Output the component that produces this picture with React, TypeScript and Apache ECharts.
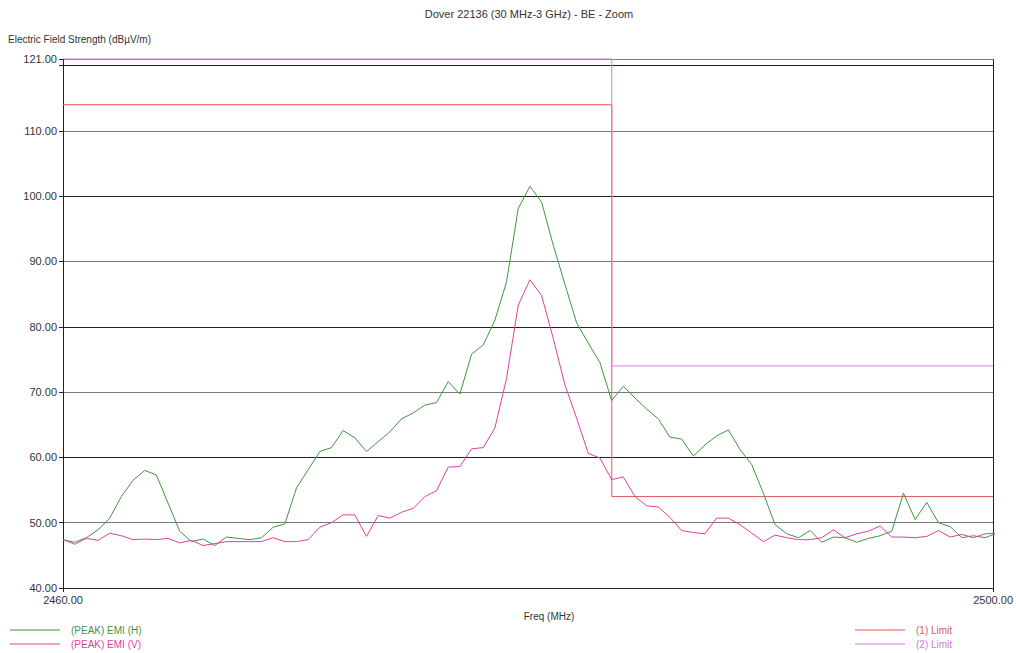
import React, { useEffect, useRef } from "react";
import * as echarts from "echarts";

const FREQ_START = 2460;
const FREQ_STEP = 0.502;

const emiH = [
  47.4, 47.0, 47.7, 48.9, 50.7, 54.0, 56.5, 58.0, 57.3, 53.0,
  48.7, 47.1, 47.5, 46.5, 47.8, 47.6, 47.4, 47.7, 49.3, 49.8,
  55.3, 58.1, 60.9, 61.5, 64.1, 63.0, 60.9, 62.4, 63.9, 65.9,
  66.8, 68.0, 68.4, 71.6, 69.7, 75.8, 77.2, 81.0, 86.9, 98.1,
  101.5, 99.1, 92.5, 86.5, 80.6, 77.5, 74.5, 68.7, 70.9, 69.1,
  67.4, 65.9, 63.1, 62.8, 60.2, 61.9, 63.3, 64.2, 61.2, 58.9,
  54.5, 49.7, 48.3, 47.7, 48.8, 47.0, 47.8, 47.7, 47.0, 47.6,
  48.0, 48.7, 54.5, 50.5, 53.1, 50.0, 49.4, 47.7, 48.0, 47.7,
  48.4,
];

const emiV = [
  47.4, 46.7, 47.6, 47.3, 48.4, 48.0, 47.4, 47.5, 47.4, 47.6,
  46.9, 47.3, 46.5, 46.8, 47.1, 47.1, 47.1, 47.1, 47.7, 47.1,
  47.1, 47.4, 49.3, 50.0, 51.2, 51.2, 47.9, 51.1, 50.7, 51.6,
  52.2, 54.0, 54.9, 58.5, 58.6, 61.3, 61.5, 64.5, 72.1, 83.3,
  87.2, 84.8, 78.2, 71.1, 66.0, 60.6, 59.9, 56.6, 57.0, 54.0,
  52.6, 52.4, 50.8, 48.8, 48.5, 48.3, 50.7, 50.7, 49.7, 48.4,
  47.1, 48.1, 47.7, 47.4, 47.4, 47.7, 48.9, 47.7, 48.3, 48.7,
  49.5, 47.8, 47.8, 47.7, 47.9, 48.8, 47.8, 48.2, 47.7, 48.3,
  48.4,
];

const limit1Freq = [2460, 2483.6, 2483.6, 2500];
const limit1Val = [114, 114, 54, 54];
const limit2Freq = [2460, 2483.6, 2483.6, 2500];
const limit2Val = [121, 121, 74, 74];

const xTicks = [2460, 2500];
const yMin = 40;
const yMax = 121;
const yStep = 10;

const TITLE = "Dover 22136 (30 MHz-3 GHz) - BE - Zoom";
const Y_NAME = "Electric Field Strength (dBµV/m)";
const X_NAME = "Freq (MHz)";
const NAMES = ["(PEAK) EMI (H)", "(PEAK) EMI (V)", "(1) Limit", "(2) Limit"];
const COLORS = ["#3f963f", "#df3f9f", "#e05a5a", "#d27ae0"];

const FONT = "Liberation Sans";

export default function App() {
  const ref = useRef<HTMLDivElement>(null);

  useEffect(() => {
    if (!ref.current) return;
    const chart = echarts.init(ref.current, undefined, { renderer: "svg" });
    const toPairs = (vals: number[]) =>
      vals.map((v, i) => [FREQ_START + i * FREQ_STEP, v]);
    const zip = (xs: number[], ys: number[]) => xs.map((x, i) => [x, ys[i]]);

    const lineSeries = (name: string, color: string, data: number[][], z: number, clip = true) => ({
      name,
      type: "line",
      data,
      symbol: "none",
      clip,
      z,
      lineStyle: { color, width: 1 },
      itemStyle: { color },
    });

    const legendCommon = {
      orient: "vertical",
      top: 624,
      height: 40,
      padding: 0,
      icon: "rect",
      itemWidth: 50,
      itemHeight: 1,
      itemGap: 2,
      itemStyle: { borderWidth: 0 },
      textStyle: { fontSize: 10, fontFamily: FONT, lineHeight: 12, padding: [0, 0, 0, 6] },
      selectedMode: false,
    };

    chart.setOption({
      animation: false,
      backgroundColor: "#ffffff",
      textStyle: { fontFamily: FONT },
      grid: { left: 63, right: 19, top: 59, bottom: 65 },
      xAxis: {
        type: "value",
        min: xTicks[0],
        max: xTicks[xTicks.length - 1],
        interval: xTicks[1] - xTicks[0],
        axisLine: { show: true, lineStyle: { color: "#222", width: 1 } },
        axisTick: { show: true, length: 4, lineStyle: { color: "#222" } },
        axisLabel: {
          formatter: (v: number) => v.toFixed(2),
          color: "#333",
          fontSize: 11,
          fontFamily: FONT,
          margin: 6,
        },
        splitLine: { show: true, lineStyle: { color: "#222", width: 1 } },
      },
      yAxis: {
        type: "value",
        min: yMin,
        max: yMax,
        interval: yStep,
        axisLine: { show: true, lineStyle: { color: "#222", width: 1 } },
        axisTick: { show: true, length: 4, lineStyle: { color: "#222" } },
        axisLabel: {
          formatter: (v: number) => (v === 120 ? "" : v.toFixed(2)),
          color: "#333",
          fontSize: 11,
          fontFamily: FONT,
          margin: 6,
          showMaxLabel: true,
          hideOverlap: false,
        },
        splitLine: {
          show: true,
          lineStyle: { color: ["#222", "#7a7a7a"], width: 1 },
        },
      },
      legend: [
        {
          ...legendCommon,
          left: 10,
          data: [
            { name: NAMES[0], textStyle: { color: COLORS[0] } },
            { name: NAMES[1], textStyle: { color: COLORS[1] } },
          ],
        },
        {
          ...legendCommon,
          left: 855,
          data: [
            { name: NAMES[2], textStyle: { color: COLORS[2] } },
            { name: NAMES[3], textStyle: { color: COLORS[3] } },
          ],
        },
      ],
      graphic: [
        {
          type: "text",
          x: 529,
          y: 8,
          style: {
            text: TITLE,
            fill: "#333",
            font: `11px '${FONT}'`,
            textAlign: "center",
          },
        },
        {
          type: "text",
          x: 8,
          y: 34,
          style: {
            text: Y_NAME,
            fill: "#333",
            font: `10px '${FONT}'`,
            textAlign: "left",
          },
        },
        {
          type: "text",
          x: 549,
          y: 611,
          style: {
            text: X_NAME,
            fill: "#333",
            font: `10px '${FONT}'`,
            textAlign: "center",
          },
        },
      ],
      series: [
        lineSeries(NAMES[0], COLORS[0], toPairs(emiH), 4),
        lineSeries(NAMES[1], COLORS[1], toPairs(emiV), 5),
        lineSeries(NAMES[2], COLORS[2], zip(limit1Freq, limit1Val), 3, false),
        lineSeries(NAMES[3], COLORS[3], zip(limit2Freq, limit2Val), 6, false),
      ],
    });

    return () => chart.dispose();
  }, []);

  return (
    <div
      ref={ref}
      style={{ position: "fixed", left: 0, top: 0, width: 1016, height: 653 }}
    />
  );
}
